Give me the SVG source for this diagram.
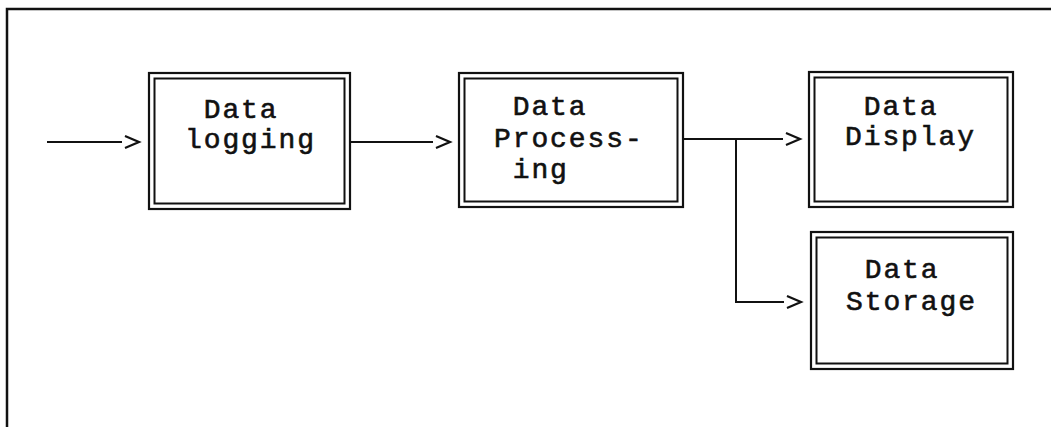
<svg xmlns="http://www.w3.org/2000/svg" width="1051" height="427" viewBox="0 0 1051 427">
<style>
.frame{fill:none;stroke:#111;stroke-width:2.5}
.bo{fill:none;stroke:#111;stroke-width:2.2}
.bi{fill:none;stroke:#111;stroke-width:2}
.con{fill:none;stroke:#111;stroke-width:2}
.t{font-family:"Liberation Mono","Courier New",monospace;font-size:28px;letter-spacing:1.9px;fill:#111;stroke:#111;stroke-width:0.6;white-space:pre}
</style>
<defs>
<marker id="chev" markerUnits="userSpaceOnUse" markerWidth="20" markerHeight="14" refX="0" refY="7" orient="auto" overflow="visible">
<path d="M3,1 L17,7 L3,13" fill="none" stroke="#111" stroke-width="2.2"/>
</marker>
</defs>
<rect width="1051" height="427" fill="#fff"/>
<path class="frame" d="M7,440 L7,9 L1060,9"/>
<g id="connectors">
<path class="con" d="M47,142 L122,142" marker-end="url(#chev)"/>
<path class="con" d="M351,142 L433,142" marker-end="url(#chev)"/>
<path class="con" d="M684,139 L783,139" marker-end="url(#chev)"/>
<path class="con" d="M736,139 L736,302 L784,302" marker-end="url(#chev)"/>
</g>
<g id="data-logging">
<rect class="bo" x="149" y="73" width="201" height="136"/>
<rect class="bi" x="154.5" y="78.5" width="190" height="125"/>
<text class="t" x="185" y="118"> Data</text>
<text class="t" x="185" y="148">logging</text>
</g>
<g id="data-processing">
<rect class="bo" x="459" y="73" width="224" height="134"/>
<rect class="bi" x="464.5" y="78.5" width="213" height="123"/>
<text class="t" x="494" y="115"> Data</text>
<text class="t" x="494" y="147">Process-</text>
<text class="t" x="494" y="178"> ing</text>
</g>
<g id="data-display">
<rect class="bo" x="809" y="72" width="204" height="135"/>
<rect class="bi" x="814.5" y="77.5" width="193" height="124"/>
<text class="t" x="845" y="115"> Data</text>
<text class="t" x="845" y="145">Display</text>
</g>
<g id="data-storage">
<rect class="bo" x="811" y="232" width="202" height="137"/>
<rect class="bi" x="816.5" y="237.5" width="191" height="126"/>
<text class="t" x="846" y="278"> Data</text>
<text class="t" x="846" y="310">Storage</text>
</g>
</svg>
